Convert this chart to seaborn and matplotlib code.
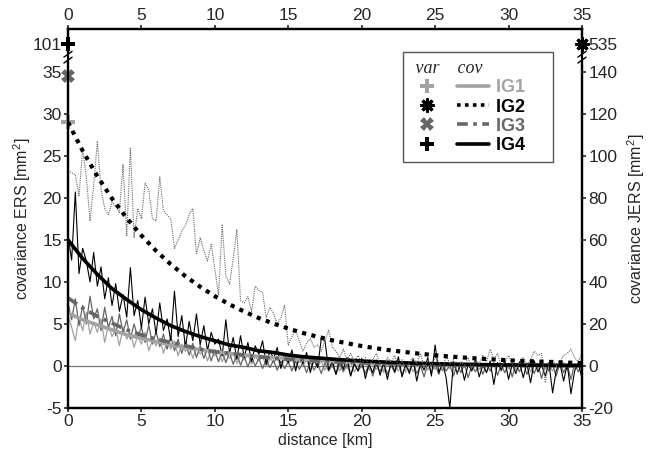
import numpy as np
import matplotlib
matplotlib.use("Agg")
import matplotlib.pyplot as plt
import seaborn as sns
from matplotlib.lines import Line2D
from matplotlib.legend_handler import HandlerTuple
import matplotlib.transforms as mtransforms

# ------------------------------------------------------------------
# data
# ------------------------------------------------------------------
# empirical covariances, one value every 0.25 km from 0 to 35 km
ig1_cov = [6.0, 4.6, 3.0, 5.8, 4.2, 6.4, 3.8, 5.2, 4.0, 5.6, 2.8, 4.9, 3.5, 4.4, 2.4, 4.6,
           3.2, 3.9, 2.2, 3.6, 2.6, 4.0, 1.8, 3.1, 2.4, 3.3, 1.5, 2.9, 2.0, 3.0, 1.2, 2.6,
           1.7, 2.4, 0.9, 2.2, 1.4, 2.0, 0.6, 1.8, 1.2, 1.9, 0.5, 1.5, 0.9, 1.6, 0.3, 1.3,
           0.7, 1.4, 0.2, 1.1, 0.6, 1.2, -0.1, 0.9, 0.4, 1.0, -0.2, 0.8, 0.3, 0.9, -0.3, 0.6,
           0.1, 0.7, -0.4, 0.5, -0.1, 0.6, -0.5, 0.4, -0.2, 0.5, -0.6, 0.3, -0.3, 0.4, -0.7, 0.2,
           -0.2, 0.5, -0.5, 0.3, -0.4, 0.2, -0.8, 0.4, -0.1, 0.3, -0.6, 0.2, -0.3, 0.4, -0.7, 0.1,
           -0.2, 0.5, -0.5, 0.2, -0.4, 0.3, -0.6, 0.1, -0.3, 0.4, -0.8, 0.2, -0.2, 0.3, -0.5, 0.1,
           -0.4, 0.2, -0.7, 0.3, -0.1, 0.4, -0.6, 0.2, -0.3, 0.3, -0.5, 0.1, -0.2, 0.4, -0.7, 0.2,
           -0.3, 0.3, -0.4, 0.1, -0.6, 0.2, -0.2, 0.4, -0.5, 0.1, -0.3, 0.3, -0.2]
ig2_cov = [93, 92, 91, 81, 103, 90, 69, 86, 107, 84, 75, 72, 78, 76, 73, 96,
           62, 104, 61, 75, 70, 87, 84, 70, 69, 90, 74, 72, 70, 56, 60, 64,
           67, 72, 75, 53, 61, 55, 50, 58, 46, 34, 67, 43, 39, 51, 65, 31,
           30, 33, 26, 38, 36, 35, 23, 28, 25, 20, 23, 29, 10, 14, 17, 12,
           7, 11, 13, 9, 10, 7, 12, 17, 9, 7, 4, 8, 3, 6, 2, 5,
           1, 4, 0, 3, 6, 1, -2, 4, 2, 5, 0, 3, -3, 2, 4, 1,
           6, -1, 3, 0, 4, 2, -2, 5, 1, 3, -4, 2, 0, 4, -1, 3,
           1, 5, 2, 8, 3, 6, 0, 2, 5, 1, -3, 2, 4, 0, 3, 7,
           5, 6, -8, 1, 3, 0, 2, 5, 6, 8, 4, 2, 6]
ig3_cov = [7.5, 5.5, 8.0, 4.8, 7.2, 5.0, 8.3, 5.6, 6.8, 4.2, 7.0, 4.6, 5.9, 3.6, 6.2, 4.0,
           5.5, 3.2, 5.0, 3.4, 4.6, 2.8, 4.9, 2.6, 4.1, 2.3, 3.8, 2.0, 3.5, 1.8, 3.2, 1.5,
           2.9, 1.3, 2.7, 1.0, 2.4, 0.9, 2.1, 0.6, 1.9, 0.5, 1.7, 0.4, 1.6, 0.2, 1.4, 0.1,
           1.2, -0.1, 1.1, 0.0, 0.9, -0.3, 0.8, -0.2, 0.7, -0.5, 0.6, -0.3, 0.5, -0.6, 0.6, -0.4,
           0.4, -0.8, 0.5, -0.5, 0.3, -0.9, 0.4, -0.6, 0.2, -1.0, 0.3, -0.7, 0.2, -1.1, 0.4, -0.6,
           0.1, -0.9, 0.3, -1.2, 0.2, -0.7, 0.4, -1.0, 0.1, -0.8, 0.3, -1.1, 0.2, -0.6, 0.5, -0.9,
           0.0, -1.3, 0.3, -0.7, 0.2, -1.0, 0.4, -0.6, 0.1, -1.2, 0.3, -0.8, 0.2, -1.4, 0.1, -0.7,
           0.3, -1.0, 0.2, -0.6, 0.4, -1.1, 0.1, -0.8, 0.3, -1.3, 0.2, -0.7, 0.4, -1.0, 0.1, -0.9,
           0.3, -1.5, 0.2, -0.6, 0.1, -1.2, 0.4, -0.8, 0.2, -1.6, 0.3, -0.7, 0.1]
ig4_cov = [15.5, 12.6, 20.7, 11.0, 14.0, 12.5, 10.0, 13.5, 9.5, 11.8, 8.0, 10.5, 7.2, 9.8, 6.5, 8.5,
           5.8, 11.7, 6.0, 7.8, 4.5, 8.2, 5.0, 6.8, 3.8, 7.5, 4.2, 5.6, 3.0, 8.9, 3.5, 6.0,
           2.2, 5.3, 3.0, 6.2, 2.5, 4.8, 1.8, 4.0, 2.6, 3.2, 1.2, 5.5, 1.5, 3.4, 0.8, 3.6,
           1.0, 2.8, 0.5, 2.4, 1.4, 3.0, 0.2, 1.8, 0.9, 2.2, -0.3, 1.5, 0.4, 1.9, -0.6, 1.2,
           0.3, 1.6, -0.8, 0.9, -0.2, 3.3, 3.0, -0.5, 0.6, -1.0, 0.8, -0.4, 1.0, -1.2, 0.3, -0.6,
           0.9, -1.5, 0.2, -0.8, 0.7, -1.1, 0.4, -1.6, 0.5, -0.7, 1.1, -1.3, 0.2, -0.9, 0.8, -1.8,
           0.3, -0.5, 1.0, -1.2, 2.5, -0.8, 0.4, -1.4, -5.0, 0.5, -0.9, 0.3, -1.7, 0.2, -0.6, 0.8,
           -1.3, 0.1, -0.8, 0.6, -2.2, 0.4, -0.5, 0.7, -1.6, 0.2, -0.9, 0.5, -1.4, 0.3, -2.0, 0.6,
           -0.7, 0.1, -1.2, 0.4, -3.2, -0.5, 0.3, -1.8, 0.2, -3.3, -0.6, 0.4, -1.5]
lag_step = 0.25  # km between empirical covariance values

# fitted covariance functions, one value per km
fit_km = list(range(36))
ig1_fit = [6.3, 5.5, 4.9, 4.3, 3.7, 3.3, 2.9, 2.5, 2.2, 1.95, 1.7, 1.5, 1.3, 1.15, 1.0, 0.9,
           0.8, 0.7, 0.6, 0.53, 0.47, 0.41, 0.36, 0.32, 0.28, 0.24, 0.21, 0.19, 0.17, 0.14,
           0.13, 0.11, 0.1, 0.09, 0.08, 0.07]
ig2_fit = [116, 102.4, 90.3, 79.7, 70.4, 62.1, 54.8, 48.4, 42.7, 37.7, 33.2, 29.3, 25.9,
           22.8, 20.2, 17.8, 15.7, 13.9, 12.2, 10.8, 9.5, 8.4, 7.4, 6.6, 5.8, 5.1, 4.5, 4.0,
           3.5, 3.1, 2.7, 2.4, 2.1, 1.9, 1.6, 1.4]
ig3_fit = [8.1, 6.9, 5.9, 5.1, 4.3, 3.7, 3.2, 2.8, 2.4, 2.0, 1.7, 1.5, 1.3, 1.1, 0.9, 0.8,
           0.7, 0.6, 0.5, 0.44, 0.37, 0.32, 0.27, 0.23, 0.2, 0.17, 0.15, 0.13, 0.11, 0.09,
           0.08, 0.07, 0.06, 0.05, 0.04, 0.04]
ig4_fit = [15.0, 12.8, 10.9, 9.2, 7.9, 6.7, 5.7, 4.8, 4.1, 3.5, 3.0, 2.5, 2.2, 1.8, 1.6, 1.3,
           1.1, 0.96, 0.82, 0.7, 0.6, 0.51, 0.43, 0.37, 0.31, 0.27, 0.23, 0.19, 0.16, 0.14,
           0.12, 0.1, 0.09, 0.07, 0.06, 0.05]

# variances (drawn at distance 0, IG2 on the JERS axis at the right edge)
var_ers = {"IG1": 29.0, "IG3": 34.5, "IG4": 101}
var_jers = {"IG2": 535}

names = ["IG1", "IG2", "IG3", "IG4"]
colors = {"IG1": "#a3a3a3", "IG2": "black", "IG3": "#666666", "IG4": "black"}

ers_ticks = [-5, 0, 5, 10, 15, 20, 25, 30, 35]
jers_ticks = [-20, 0, 20, 40, 60, 80, 100, 120, 140]
x_ticks = [0, 5, 10, 15, 20, 25, 30, 35]

# ------------------------------------------------------------------
# figure
# ------------------------------------------------------------------
sns.set_style("ticks")
plt.rcParams["font.family"] = ["Liberation Sans", "DejaVu Sans"]
plt.rcParams["font.size"] = 11
plt.rcParams["mathtext.fontset"] = "custom"
plt.rcParams["mathtext.rm"] = "Liberation Sans"

fig = plt.figure(figsize=(6.55, 4.62), dpi=100)
ax = fig.add_axes([0.1038, 0.1169, 0.7847, 0.8203])
ax2 = ax.twinx()

ers_top = 40.1
brk = 38.3  # where the off-scale variances sit
ax.set_xlim(0, 35)
ax.set_ylim(-5, ers_top)
ax2.set_ylim(-20, ers_top * 4)

lag = np.arange(len(ig1_cov)) * lag_step

ax.axhline(0, color="#777777", lw=0.9, zorder=1)

# empirical covariances (thin)
sns.lineplot(x=lag, y=ig1_cov, ax=ax, color=colors["IG1"], lw=0.9, zorder=2)
sns.lineplot(x=lag, y=ig3_cov, ax=ax, color=colors["IG3"], lw=0.9, zorder=2)
sns.lineplot(x=lag, y=ig4_cov, ax=ax, color=colors["IG4"], lw=0.8, zorder=2)
sns.lineplot(x=lag, y=ig2_cov, ax=ax2, color="#666666", lw=0.8, linestyle=(0, (1, 1)), zorder=2)

# fitted models (thick)
sns.lineplot(x=fit_km, y=ig1_fit, ax=ax, color=colors["IG1"], lw=2.6, zorder=3)
sns.lineplot(x=fit_km, y=ig3_fit, ax=ax, color=colors["IG3"], lw=2.6,
             linestyle=(0, (3, 1.5, 1, 1.5)), zorder=3)
sns.lineplot(x=fit_km, y=ig4_fit, ax=ax, color=colors["IG4"], lw=2.6, zorder=3)
sns.lineplot(x=fit_km, y=ig2_fit, ax=ax2, color=colors["IG2"], lw=3.0,
             linestyle=(0, (1, 1.3)), zorder=3)

# variance markers
marker_style = {
    "IG1": dict(marker="P", ms=10, mew=0),
    "IG2": dict(marker=(8, 2, 0), ms=10, mew=2.2),
    "IG3": dict(marker="X", ms=10, mew=0),
    "IG4": dict(marker="P", ms=10, mew=0),
}
for n, v in var_ers.items():
    y = v if v < 36 else brk
    ax.plot([0], [y], linestyle="none", color=colors[n], mfc=colors[n], mec=colors[n],
            clip_on=False, zorder=6, **marker_style[n])
for n, v in var_jers.items():
    ax2.plot([35], [brk * 4], linestyle="none", color=colors[n], mfc=colors[n], mec=colors[n],
             clip_on=False, zorder=6, **marker_style[n])

# ticks and labels
ax.set_xticks(x_ticks)
ax.set_yticks(ers_ticks + [brk])
ax.set_yticklabels([str(t) for t in ers_ticks] + [str(var_ers["IG4"])])
ax2.set_yticks(jers_ticks + [brk * 4])
ax2.set_yticklabels([str(t) for t in jers_ticks] + [str(var_jers["IG2"])])
ax.tick_params(axis="both", direction="out", length=3, width=1.2, labelsize=12.5, pad=1.5,
               top=True, labeltop=True)
ax2.tick_params(axis="y", direction="out", length=3, width=1.2, labelsize=12.5, pad=1.5)

ax.set_xlabel("distance [km]", fontsize=11.5, labelpad=3)
ax.set_ylabel("covariance ERS [mm$^2$]", fontsize=11.5, labelpad=0)
ax2.set_ylabel("covariance JERS [mm$^2$]", fontsize=11.5, labelpad=6)

for a in (ax, ax2):
    for s in a.spines.values():
        s.set_linewidth(1.6)
        s.set_color("black")

# axis break marks on both vertical axes
for xa in (0, 1):
    trans = mtransforms.blended_transform_factory(ax.transAxes, ax.transData)
    ax.plot([xa, xa], [36.4, 37.1], color="white", lw=3, transform=trans, clip_on=False, zorder=7)
    for yb in (36.4, 37.1):
        ax.plot([xa - 0.008, xa + 0.008], [yb - 0.35, yb + 0.35], color="black", lw=1.0,
                transform=trans, clip_on=False, zorder=8)

# legend: variance marker + covariance line per group
handles = []
for n in names:
    m = Line2D([], [], linestyle="none", color=colors[n], mfc=colors[n], mec=colors[n],
               **marker_style[n])
    if n == "IG2":
        l = Line2D([], [], color="black", lw=2.6, linestyle=(0, (1, 1.2)))
    elif n == "IG3":
        l = Line2D([], [], color=colors[n], lw=2.6, linestyle=(0, (3, 1.5, 1, 1.5)))
    else:
        l = Line2D([], [], color=colors[n], lw=2.6)
    handles.append((m, l))

leg = ax2.legend(handles, [n + "    " for n in names],
                 handler_map={tuple: HandlerTuple(ndivide=None, pad=0.8)},
                 loc="upper left", bbox_to_anchor=(0.652, 0.939), bbox_transform=ax.transAxes,
                 borderaxespad=0, handlelength=4.3, handletextpad=0.4, labelspacing=0.12,
                 borderpad=0.45, fancybox=False, framealpha=1, edgecolor="#555555",
                 title=" var    cov", prop={"weight": "bold", "size": 13})
leg.get_frame().set_linewidth(1.0)
leg.get_title().set_fontfamily("Liberation Serif")
leg.get_title().set_fontstyle("italic")
leg.get_title().set_fontsize(13)
leg._legend_box.align = "left"
for txt, n in zip(leg.get_texts(), names):
    txt.set_color(colors[n])
leg.set_zorder(10)

fig.savefig("out.png", dpi=100)
